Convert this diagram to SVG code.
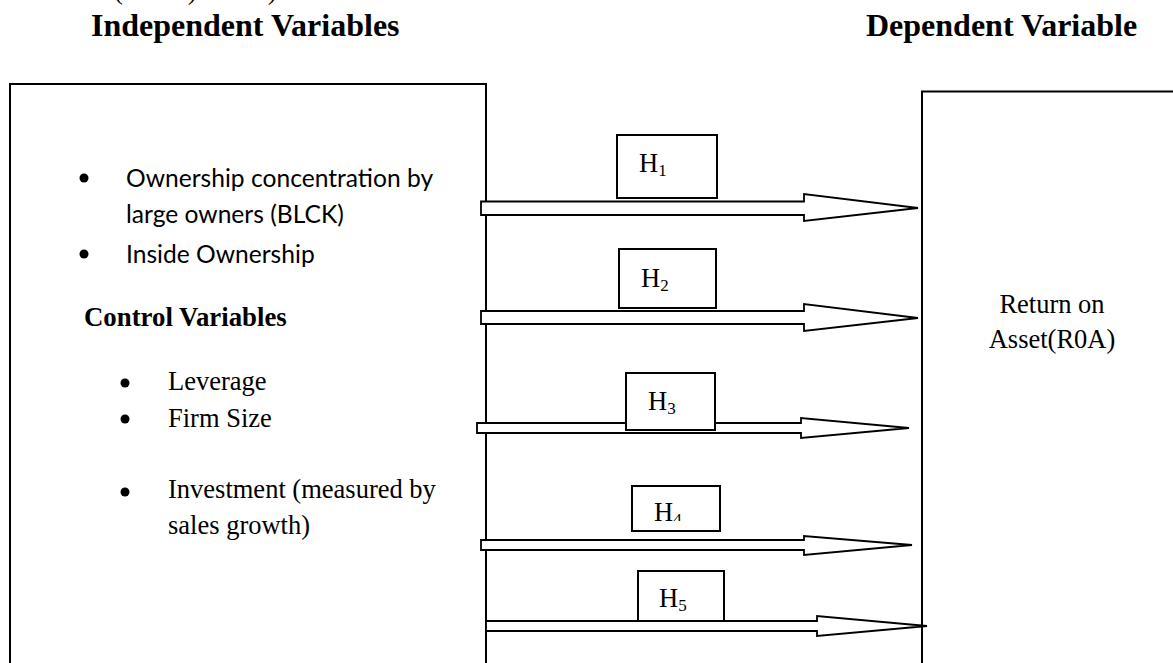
<svg xmlns="http://www.w3.org/2000/svg" width="1173" height="663" viewBox="0 0 1173 663">
<style>
.box{fill:#fff;stroke:#000;stroke-width:2}
.arrow{fill:#fff;stroke:#000;stroke-width:1.8;stroke-linejoin:miter}
.serif{font-family:"Liberation Serif","Times New Roman",serif;fill:#000}
.head{font-size:32px;font-weight:bold}
.sub{font-size:26.8px;font-weight:bold}
.body{font-size:26.5px}
.sans{font-family:Lato,"Liberation Sans",sans-serif;font-size:24.6px;fill:#000}
.h{font-size:26.5px}
.hs{font-size:17px}
</style>
<defs>
<clipPath id="clipH4"><rect x="632" y="486" width="88" height="35"/></clipPath>
</defs>
<rect width="1173" height="663" fill="#fff"/>
<g id="cutoff" class="serif body">
<text x="114" y="-1">(</text>
<text x="188" y="-1">)</text>
<text x="268" y="-1">)</text>
</g>
<g id="headings" class="serif head">
<text x="91" y="36">Independent Variables</text>
<text x="866" y="36">Dependent Variable</text>
</g>
<g id="independent">
<rect class="box" x="10" y="84" width="476" height="620"/>
<circle cx="84" cy="178" r="4.5"/>
<text class="sans" x="126" y="187">Ownership concentration by</text>
<text class="sans" x="126" y="223">large owners (BLCK)</text>
<circle cx="84" cy="254" r="4.5"/>
<text class="sans" x="126" y="263">Inside Ownership</text>
<text class="serif sub" x="84" y="326">Control Variables</text>
<circle cx="125" cy="383" r="4.5"/>
<text class="serif body" x="168" y="390">Leverage</text>
<circle cx="125" cy="419" r="4.5"/>
<text class="serif body" x="168" y="427">Firm Size</text>
<circle cx="125" cy="492" r="4.5"/>
<text class="serif body" x="168" y="498">Investment (measured by</text>
<text class="serif body" x="168" y="534">sales growth)</text>
</g>
<g id="dependent">
<rect class="box" x="922" y="91.5" width="300" height="620"/>
<text class="serif body" x="1052" y="313" text-anchor="middle">Return on</text>
<text class="serif body" x="1052" y="348" text-anchor="middle">Asset(R0A)</text>
</g>
<g id="connectors">
<polygon class="arrow" points="481,201.5 804,201.5 804,194 918,208 804,221 804,215 481,215"/>
<polygon class="arrow" points="481,311 804,311 804,304 918,318 804,331 804,324 481,324"/>
<polygon class="arrow" points="477,423 801,423 801,418 909,428 801,438 801,433 477,433"/>
<polygon class="arrow" points="481,540 804,540 804,536 912,545 804,555 804,550 481,550"/>
<polygon class="arrow" points="486,621 817,621 817,616 927,626 817,636 817,631 486,631"/>
</g>
<g id="h1">
<rect class="box" x="617" y="135" width="100" height="63"/>
<text class="serif h" x="639" y="172">H<tspan class="hs" dy="4">1</tspan></text>
</g>
<g id="h2">
<rect class="box" x="619" y="249" width="97" height="59"/>
<text class="serif h" x="641" y="287">H<tspan class="hs" dy="4">2</tspan></text>
</g>
<g id="h3">
<rect class="box" x="626" y="373" width="89" height="57"/>
<text class="serif h" x="648" y="410">H<tspan class="hs" dy="4">3</tspan></text>
</g>
<g id="h4">
<rect class="box" x="632" y="486" width="88" height="45"/>
<text class="serif h" x="654" y="521" clip-path="url(#clipH4)">H<tspan class="hs" dy="4">4</tspan></text>
</g>
<g id="h5">
<rect class="box" x="638" y="571" width="86" height="50"/>
<text class="serif h" x="659" y="607">H<tspan class="hs" dy="4">5</tspan></text>
</g>
</svg>
